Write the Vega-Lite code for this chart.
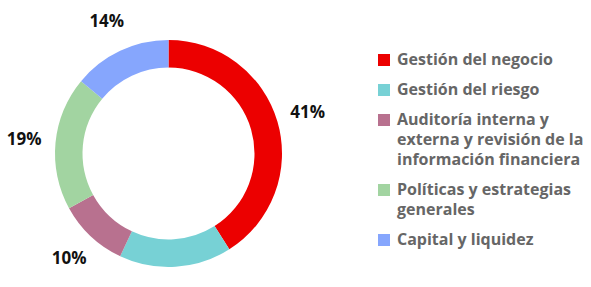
{
  "$schema": "https://vega.github.io/schema/vega-lite/v6.json",
  "width": 337,
  "height": 267,
  "autosize": {"type": "none"},
  "padding": {"top": 20, "left": 0, "right": 254, "bottom": 0},
  "background": "white",
  "data": {
    "values": [
      {"tema": "Gestión del negocio", "share": 0.41, "order": 1},
      {"tema": "Gestión del riesgo", "share": 0.16, "order": 2},
      {"tema": "Auditoría interna y externa y revisión de la información financiera", "share": 0.10, "order": 3},
      {"tema": "Políticas y estrategias generales", "share": 0.19, "order": 4},
      {"tema": "Capital y liquidez", "share": 0.14, "order": 5}
    ]
  },
  "encoding": {
    "theta": {"field": "share", "type": "quantitative", "stack": true},
    "order": {"field": "order", "type": "quantitative"}
  },
  "layer": [
    {
      "mark": {"type": "arc", "outerRadius": 113.5, "innerRadius": 86},
      "encoding": {
        "color": {
          "field": "tema",
          "type": "nominal",
          "sort": null,
          "scale": {
            "domain": ["Gestión del negocio", "Gestión del riesgo", "Auditoría interna y externa y revisión de la información financiera", "Políticas y estrategias generales", "Capital y liquidez"],
            "range": ["#EC0000", "#77D1D5", "#B8718F", "#A2D4A1", "#86A6FD"]
          },
          "legend": {
            "title": null,
            "orient": "none",
            "legendX": 376,
            "legendY": 32,
            "padding": 0,
            "symbolType": "square",
            "symbolSize": 144,
            "symbolStrokeWidth": 0,
            "symbolOpacity": 1,
            "labelFont": "Open Sans",
            "labelFontWeight": "bold",
            "labelFontSize": 16,
            "labelColor": "#666666",
            "labelLimit": 400,
            "labelOffset": 5,
            "rowPadding": 14,
            "labelExpr": "datum.label == 'Auditoría interna y externa y revisión de la información financiera' ? ['Auditoría interna y', 'externa y revisión de la', 'información financiera'] : datum.label == 'Políticas y estrategias generales' ? ['Políticas y estrategias', 'generales'] : datum.label",
            "encode": {"labels": {"update": {"lineHeight": {"value": 20}}}}
          }
        }
      }
    },
    {
      "mark": {"type": "text", "radius": 145, "font": "Open Sans", "fontWeight": "bold", "fontSize": 17, "color": "#111111"},
      "encoding": {
        "text": {"field": "share", "type": "quantitative", "format": ".0%"}
      }
    }
  ],
  "config": {"view": {"stroke": null}}
}
